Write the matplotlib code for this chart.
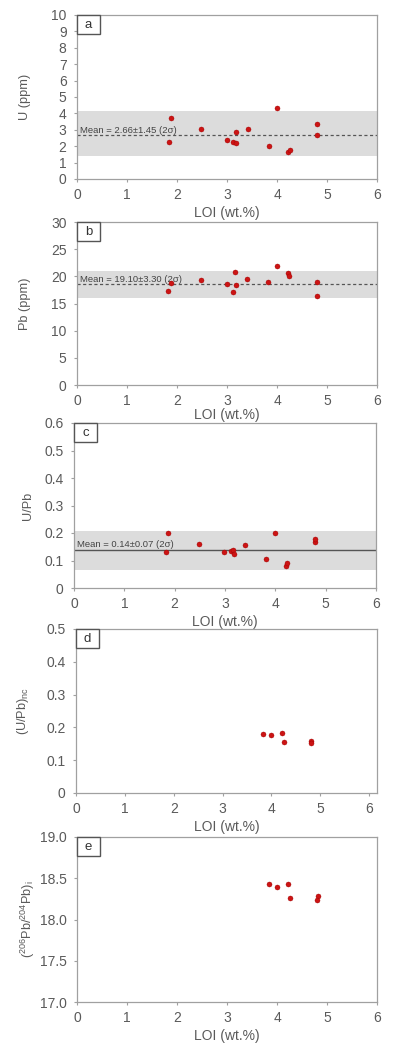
import matplotlib
matplotlib.use("Agg")
import matplotlib.pyplot as plt
from matplotlib.patches import Rectangle

plt.rcParams["font.family"] = ["Liberation Sans", "DejaVu Sans"]
plt.rcParams["mathtext.fontset"] = "custom"
plt.rcParams["mathtext.rm"] = "Liberation Sans"
plt.rcParams["mathtext.it"] = "Liberation Sans"

# ── 数据 ─────────────────────────────────────────────
loi_all = [1.83, 1.88, 2.48, 3.00, 3.12, 3.17, 3.18, 3.41, 3.83, 3.99, 4.22, 4.25, 4.80, 4.80]
u_ppm = [2.23, 3.73, 3.06, 2.39, 2.27, 2.88, 2.21, 3.02, 2.01, 4.34, 1.62, 1.78, 3.35, 2.70]

loi_pb = [1.82, 1.87, 2.48, 2.99, 3.12, 3.16, 3.17, 3.40, 3.82, 3.99, 4.21, 4.24, 4.80, 4.79]
pb_ppm = [17.29, 18.75, 19.36, 18.63, 17.04, 20.83, 18.33, 19.55, 18.94, 21.99, 20.53, 19.98, 18.88, 16.37]

loi_upb = [1.82, 1.87, 2.48, 2.99, 3.12, 3.16, 3.17, 3.40, 3.81, 3.99, 4.21, 4.24, 4.79, 4.79]
u_pb = [0.130, 0.200, 0.160, 0.130, 0.135, 0.139, 0.122, 0.155, 0.107, 0.199, 0.081, 0.091, 0.167, 0.179]

loi_sub = [3.83, 4.00, 4.22, 4.25, 4.81, 4.81]
u_pb_nc = [0.181, 0.178, 0.182, 0.154, 0.160, 0.151]

loi_iso = [3.83, 4.00, 4.22, 4.25, 4.81, 4.80]
pb206_204 = [18.43, 18.40, 18.43, 18.26, 18.29, 18.24]

# 均值与 2σ 区间
mean_u, band_u = 2.66, (1.38, 4.14)
mean_pb, band_pb = 18.51, (15.94, 21.01)
mean_upb, band_upb = 0.138, (0.067, 0.207)

GRAY_TXT = "#5a5a5a"
SPINE = "#a0a0a0"
RED = "#cc1414"

W, H = 395, 1046
fig = plt.figure(figsize=(W / 100, H / 100), dpi=100)


def make_ax(x0, x1, y0, y1):
    return fig.add_axes([x0 / W, 1 - y1 / H, (x1 - x0) / W, (y1 - y0) / H])


def style(ax, letter, ylabel, yticks, ylabels, xmax=6, label_x=31.5, xpad=3):
    ax.set_xlim(0, xmax)
    ax.set_xticks(range(7))
    ax.set_yticks(yticks)
    ax.set_yticklabels(ylabels)
    ax.set_ylim(yticks[0], yticks[-1])
    for s in ax.spines.values():
        s.set_color(SPINE)
        s.set_linewidth(0.9)
    ax.tick_params(colors=SPINE, labelcolor=GRAY_TXT, labelsize=10, length=2.5, width=0.8,
                   direction="out")
    ax.tick_params(axis="y", pad=5)
    ax.tick_params(axis="x", pad=4)
    ax.set_xlabel("LOI (wt.%)", fontsize=10, color=GRAY_TXT, labelpad=xpad)
    ax.set_ylabel(ylabel, fontsize=9.2, color=GRAY_TXT)
    bb = ax.get_position()
    ax.yaxis.set_label_coords((label_x - bb.x0 * W) / (bb.width * W), 0.5)
    # 角标方框
    aw, ah = bb.width * W, bb.height * H
    ax.add_patch(Rectangle((0, 1), 23 / aw, -19 / ah, transform=ax.transAxes,
                           facecolor="white", edgecolor="#555555", linewidth=1.0,
                           clip_on=False, zorder=5))
    ax.text(11.5 / aw, 1 - 9.5 / ah, letter, transform=ax.transAxes, ha="center",
            va="center", fontsize=9.5, color="#333333", zorder=6)


def dots(ax, x, y):
    ax.scatter(x, y, s=13, color=RED, edgecolors="#a00000", linewidths=0.3, zorder=4)


def band(ax, mean, lo_hi, text):
    ax.axhspan(lo_hi[0], lo_hi[1], color="#dcdcdc", zorder=1, linewidth=0)
    ax.axhline(mean, color="#555555", linestyle="--", linewidth=0.9, zorder=2, dashes=(2.5, 2))
    ax.text(0.05, mean, text, fontsize=6.8, color="#444444", va="bottom", ha="left", zorder=3)


# a
ax = make_ax(77, 377, 15, 179)
band(ax, mean_u, band_u, "Mean = 2.66±1.45 (2σ)")
dots(ax, loi_all, u_ppm)
style(ax, "a", "U (ppm)", list(range(11)), [str(v) for v in range(11)])

# b
ax = make_ax(77, 377, 222, 385)
band(ax, mean_pb, band_pb, "Mean = 19.10±3.30 (2σ)")
dots(ax, loi_pb, pb_ppm)
style(ax, "b", "Pb (ppm)", list(range(0, 31, 5)), [str(v) for v in range(0, 31, 5)], xpad=0)

# c
ax = make_ax(74, 376, 423, 588)
ax.axhspan(band_upb[0], band_upb[1], color="#dcdcdc", zorder=1, linewidth=0)
ax.axhline(mean_upb, color="#555555", linewidth=1.0, zorder=2)
ax.text(0.05, mean_upb + 0.004, "Mean = 0.14±0.07 (2σ)", fontsize=6.8, color="#444444",
        va="bottom", ha="left", zorder=3)
dots(ax, loi_upb, u_pb)
c_ticks = [0, 0.1, 0.2, 0.3, 0.4, 0.5, 0.6]
style(ax, "c", "U/Pb", c_ticks, ["0", "0.1", "0.2", "0.3", "0.4", "0.5", "0.6"], label_x=34)

# d
ax = make_ax(76, 377, 629, 793)
dots(ax, loi_sub, u_pb_nc)
d_ticks = [0, 0.1, 0.2, 0.3, 0.4, 0.5]
style(ax, "d", r"(U/Pb)$_{nc}$", d_ticks, ["0", "0.1", "0.2", "0.3", "0.4", "0.5"],
      xmax=6.16, label_x=31)

# e
ax = make_ax(77, 377, 837, 1002)
dots(ax, loi_iso, pb206_204)
e_ticks = [17.0, 17.5, 18.0, 18.5, 19.0]
style(ax, "e", r"($^{206}$Pb/$^{204}$Pb)$_i$", e_ticks, ["17.0", "17.5", "18.0", "18.5", "19.0"],
      label_x=37)

fig.savefig("out.png", dpi=100)
